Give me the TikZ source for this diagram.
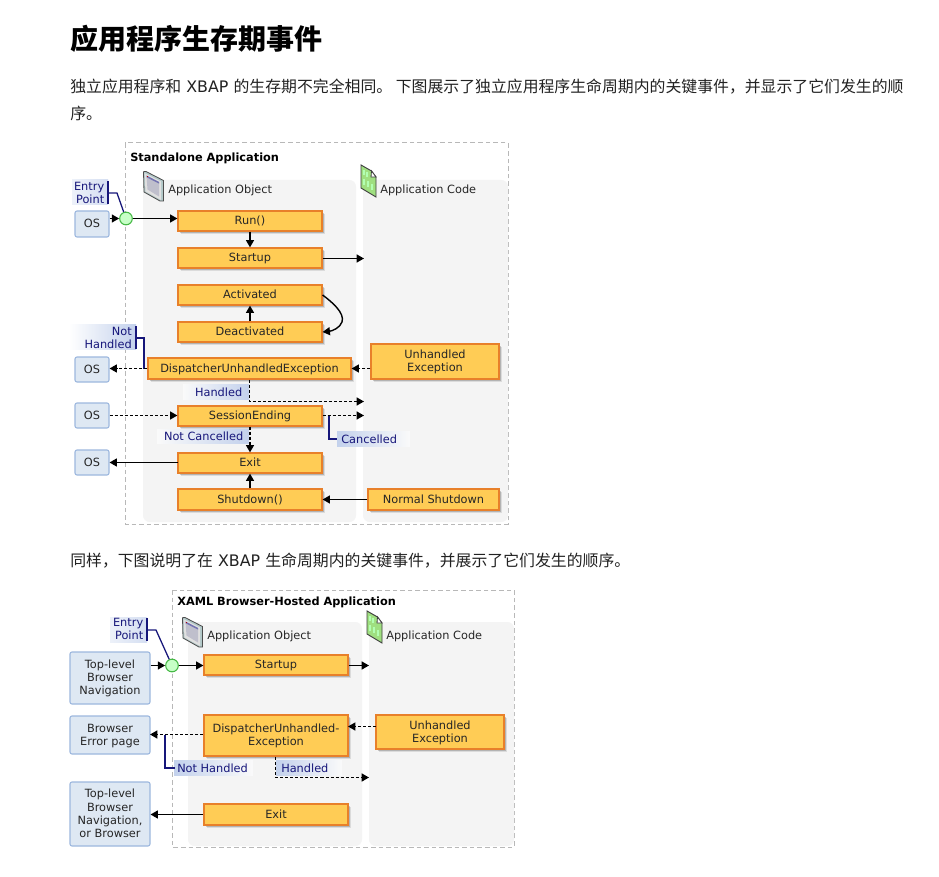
\documentclass[tikz,border=0pt]{standalone}
\usepackage{fontspec}
\setmainfont{DejaVu Sans}
\newfontfamily\cjk{Noto Sans CJK SC}
\usetikzlibrary{arrows.meta,shadows,calc}
\definecolor{boxfill}{HTML}{FFCC55}
\definecolor{boxline}{HTML}{E8802A}
\definecolor{osfill}{HTML}{DEE8F3}
\definecolor{osline}{HTML}{9DB8DE}
\definecolor{navy}{HTML}{16167A}
\definecolor{panel}{HTML}{F4F4F4}
\definecolor{labelblue}{HTML}{C3D1EC}
\definecolor{fadeend}{HTML}{FAFAFA}
\definecolor{bodytext}{HTML}{222222}
\newcommand{\dgfont}{\fontsize{8.5}{9.9}\selectfont}
\newcommand{\tstrut}{\rule[-2.2pt]{0pt}{9.8pt}}
\tikzset{
  evbox/.style={draw=boxline,line width=.9pt,fill=boxfill,align=center,inner sep=0pt,font=\dgfont,text=black!85,
    drop shadow={shadow xshift=2pt,shadow yshift=-2pt,fill=black,opacity=.10},
    drop shadow={shadow xshift=1.2pt,shadow yshift=-1.2pt,fill=black,opacity=.18}},
  osbox/.style={draw=osline,line width=.8pt,fill=osfill,rounded corners=1.5pt,align=center,inner sep=0pt,font=\dgfont,text=black!85},
  panelbox/.style={fill=panel,rounded corners=5pt,draw=none},
  outerbox/.style={draw=black!28,line width=.75pt,dash pattern=on 3.5pt off 2.2pt},
  flowline/.style={draw=black,line width=1.05pt,-{Triangle[length=5.5pt,width=6pt]}},
  dflowline/.style={flowline,dash pattern=on 2.3pt off 1.5pt},
  noteline/.style={draw=navy,line width=.95pt},
  lbltext/.style={inner sep=0pt,font=\dgfont,text=navy,align=right},
  captext/.style={inner sep=0pt,anchor=base west,font=\dgfont,text=black!85},
  ttltext/.style={inner sep=0pt,anchor=base west,font=\fontsize{8.5}{9.9}\selectfont\bfseries,text=black},
  paratext/.style={inner sep=0pt,anchor=base west,font=\fontsize{11.9}{14}\selectfont,text=bodytext},
  entrydot/.style={circle,draw=green!45!gray,line width=.8pt,fill=green!22,minimum size=9.5pt,inner sep=0pt},
}
% \bx{name}{x1}{y1}{x2}{y2}{style}{text}
\newcommand{\bx}[7]{%
  \pgfmathsetmacro{\bxw}{(#4-#2)*0.75}\pgfmathsetmacro{\bxh}{(#5-#3)*0.75}%
  \pgfmathsetmacro{\bxx}{(#2+#4)/2}\pgfmathsetmacro{\bxy}{(#3+#5)/2}%
  \node[#6,minimum width=\bxw pt,minimum height=\bxh pt] (#1) at (\bxx,\bxy) {\tstrut #7\tstrut};}
\newcommand{\appicon}[2]{%
  \begin{scope}[shift={(#1,#2)}]
    \filldraw[draw=black!70,line width=.6pt,fill=black!45!teal!30!white] (0.5,0.7) -- (3,0.5) -- (20.5,9.5) -- (20.5,30) -- (17,30) -- (1,21) -- cycle;
    \fill[black!12] (1.5,2) -- (18,10.5) -- (18,29) -- (2.5,20.5) -- cycle;
    \fill[blue!20!black!25] (3.5,4.5) -- (16,11) -- (16,25.5) -- (4.5,18.5) -- cycle;
    \fill[blue!45!black!55] (3.5,4.5) -- (16,11) -- (16,12.6) -- (3.5,6.2) -- cycle;
    \fill[red!70!black] (4,4.8) rectangle (5.2,6.2);
  \end{scope}}
\newcommand{\codeicon}[2]{%
  \begin{scope}[shift={(#1,#2)}]
    \filldraw[fill=green!50!olive!50!white,draw=black!75,line width=.7pt] (0,0) -- (10.5,6) -- (15,12) -- (15,32) -- (0,23) -- cycle;
    \filldraw[fill=white,draw=black!75,line width=.6pt] (10.5,6) -- (10,12) -- (15,12) -- cycle;
    \draw[white!70!green,line width=.8pt] (3,5) -- (3,10) (6,7) -- (6,12) (3,14) -- (3,20) (7,16) -- (7,22) (11,19) -- (11,25);
  \end{scope}}
\newcommand{\lblbg}[6]{% x1 y1 x2 y2 leftcolor rightcolor
  \fill[left color=#5,right color=#6] (#1,#2) rectangle (#3,#4);}
\begin{document}
\begin{tikzpicture}[x=0.75pt,y=-0.75pt]
\useasboundingbox (0,0) rectangle (939,877);
\fill[white] (0,0) rectangle (939,877);
% page text
\node[inner sep=0pt,anchor=base west,font=\cjk\fontsize{21}{25}\selectfont\bfseries,text=black] (head) at (70,50) {应用程序生存期事件};
\node[paratext] (p1) at (70,93) {{\cjk 独立应用程序和} XBAP {\cjk 的生存期不完全相同。 下图展示了独立应用程序生命周期内的关键事件，并显示了它们发生的顺}};
\node[paratext] (p2) at (70,120) {{\cjk 序。}};
\node[paratext] (p3) at (70,566) {{\cjk 同样，下图说明了在} XBAP {\cjk 生命周期内的关键事件，并展示了它们发生的顺序。}};

%%% ---- first diagram
\draw[outerbox] (125,143) rectangle (508,524);
\fill[panelbox] (143,180) rectangle (356,522);
\fill[panelbox] (363,180) rectangle (508,522);
\node[ttltext] (t1) at (130,161.5) {Standalone Application};
\appicon{143}{171}
\node[captext] (c1) at (168,194) {Application Object};
\codeicon{361}{165}
\node[captext] (c2) at (380,194) {Application Code};

% label backgrounds
\lblbg{72}{180}{108}{205}{labelblue!30}{labelblue!70}
\lblbg{69}{325}{136}{350}{white}{labelblue}
\lblbg{183}{384}{249}{399}{fadeend}{labelblue}
\lblbg{157}{429}{249}{443}{fadeend}{labelblue}
\lblbg{337}{431}{410}{446}{labelblue}{fadeend}

\bx{run}{178}{211}{322}{231}{evbox}{Run()}
\bx{start}{178}{248}{322}{268}{evbox}{Startup}
\bx{act}{178}{285}{322}{305}{evbox}{Activated}
\bx{deact}{178}{322}{322}{342}{evbox}{Deactivated}
\bx{disp}{148}{358}{351}{379}{evbox}{DispatcherUnhandledException}
\bx{sess}{178}{406}{322}{426}{evbox}{SessionEnding}
\bx{exit}{178}{453}{322}{473}{evbox}{Exit}
\bx{shut}{178}{489}{322}{510}{evbox}{Shutdown()}
\bx{unh}{371}{344}{499}{379}{evbox}{Unhandled\\Exception}
\bx{norm}{368}{489}{499}{510}{evbox}{Normal Shutdown}
\bx{osa}{75}{211}{109}{237}{osbox}{OS}
\bx{osb}{75}{357}{109}{382}{osbox}{OS}
\bx{osc}{75}{403}{109}{428}{osbox}{OS}
\bx{osd}{75}{450}{109}{475}{osbox}{OS}

\node[entrydot] (ep) at (126,218.5) {};
\coordinate (epb) at (108,193);
\coordinate (epk) at (117,193);
\coordinate (codeA) at (364,258.5);
\coordinate (codeB) at (364,401.5);
\coordinate (codeC) at (364,415.5);
\coordinate (hk) at (249.5,401.5);
\coordinate (nhk) at (144,338);
\coordinate (nhb) at (136,338);
\coordinate (cank) at (329,439);
\coordinate (canl) at (337,439);
\coordinate (cans) at (329,415.5);
\coordinate (curvemid) at (342,322);
\coordinate (exitline) at (178,462.5);

\node[lbltext,anchor=east] (l1) at (104.5,193) {Entry\\Point};
\node[lbltext,anchor=east] (l2) at (132,338) {Not\\Handled};
\node[lbltext,anchor=east] (l3) at (242.5,392) {Handled};
\node[lbltext,anchor=east] (l4) at (243.5,436) {Not Cancelled};
\node[lbltext,anchor=west] (l5) at (341,439) {Cancelled};

\draw[noteline] (108,181) -- (108,204);
\draw[noteline] (136,326) -- (136,349);
\draw[noteline] (epb) -- (epk) -- (ep);
\draw[noteline] (nhb) -- (nhk) -- (nhk |- disp.west);
\draw[noteline] (cans) -- (cank) -- (canl);

\draw[flowline] (osa.east |- ep) -- (ep);
\draw[flowline] (ep) -- (ep -| run.west);
\draw[flowline] (run) -- (start);
\draw[flowline] (start.east |- codeA) -- (codeA);
\draw[flowline] (deact) -- (act);
\draw[flowline] (act.east) .. controls (332,302) and (345,313) .. (curvemid) .. controls (340,328) and (332,331) .. (deact.east);
\draw[dflowline] (disp.west) -- (osb.east |- disp.west);
\draw[dflowline] (unh.west |- disp.east) -- (disp.east);
\draw[dflowline] (hk |- disp.south) -- (hk) -- (codeB);
\draw[dflowline] (osc.east) -- (osc.east -| sess.west);
\draw[dflowline] (sess.east |- codeC) -- (codeC);
\draw[dflowline] (sess) -- (exit);
\draw[flowline] (exitline) -- (osd.east |- exitline);
\draw[flowline] (shut) -- (exit);
\draw[flowline] (norm.west) -- (shut.east |- norm.west);

%%% ---- second diagram
\draw[outerbox] (172,590) rectangle (514,847);
\fill[panelbox] (188,622) rectangle (362,846);
\fill[panelbox] (369,622) rectangle (514,846);
\node[ttltext] (t2) at (177,605) {XAML Browser-Hosted Application};
\appicon{182}{617}
\node[captext] (c3) at (207,639) {Application Object};
\codeicon{367}{611}
\node[captext] (c4) at (386,639) {Application Code};

\lblbg{110}{617}{147}{642}{labelblue!30}{labelblue!70}
\lblbg{174}{760}{253}{775}{labelblue}{fadeend}
\lblbg{276}{760}{342}{775}{labelblue}{fadeend}

\bx{bstart}{204}{655}{348}{675}{evbox}{Startup}
\bx{bdisp}{204}{715}{348}{756}{evbox}{DispatcherUnhandled-\\Exception}
\bx{bexit}{204}{804}{348}{825}{evbox}{Exit}
\bx{bunh}{376}{715}{504}{749}{evbox}{Unhandled\\Exception}
\bx{bnav}{70}{652}{150}{704}{osbox}{Top-level\\Browser\\Navigation}
\bx{berr}{70}{716}{150}{754}{osbox}{Browser\\Error page}
\bx{bclose}{70}{782}{150}{846}{osbox}{Top-level\\Browser\\Navigation,\\or Browser}

\node[entrydot] (bep) at (172,665.5) {};
\coordinate (bepb) at (147,630);
\coordinate (bepk) at (156,630);
\coordinate (bcodeA) at (369,665.5);
\coordinate (bcodeB) at (369,777.5);
\coordinate (bhk) at (275.5,777.5);
\coordinate (bnhs) at (165,734.5);
\coordinate (bnhk) at (165,768);
\coordinate (bnhl) at (175,768);
\coordinate (bun) at (376,726.5);
\coordinate (bdi) at (348,726.5);
\coordinate (ber) at (150,734.5);

\node[lbltext,anchor=east] (l6) at (143.5,629) {Entry\\Point};
\node[lbltext,anchor=west] (l7) at (177,768) {Not Handled};
\node[lbltext,anchor=west] (l8) at (281,768) {Handled};

\draw[noteline] (147,618) -- (147,641);
\draw[noteline] (bepb) -- (bepk) -- (bep);
\draw[noteline] (bnhs) -- (bnhk) -- (bnhl);

\draw[flowline] (bnav.east |- bep) -- (bep);
\draw[flowline] (bep) -- (bep -| bstart.west);
\draw[flowline] (bstart.east |- bcodeA) -- (bcodeA);
\draw[dflowline] (bun) -- (bdi);
\draw[dflowline] (bdisp.west |- ber) -- (ber);
\draw[dflowline] (bhk |- bdisp.south) -- (bhk) -- (bcodeB);
\draw[flowline] (bexit.west) -- (bclose.east |- bexit.west);
\end{tikzpicture}
\end{document}
